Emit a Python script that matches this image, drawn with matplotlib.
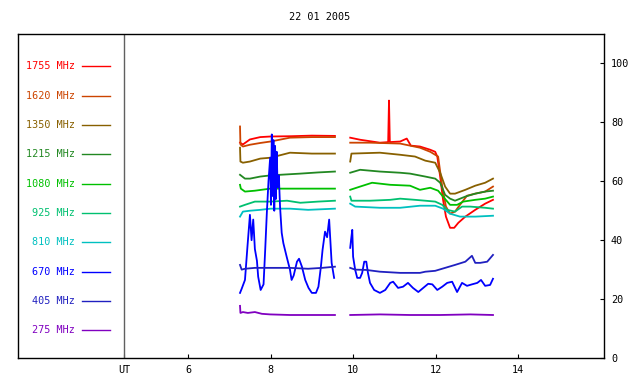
import numpy as np
import matplotlib.pyplot as plt

gap = np.nan

# frequencies (legend, top to bottom) and colours
freqs = ['1755', '1620', '1350', '1215', '1080', '925', '810', '670', '405', '275']
colors = ['#ff0000', '#cc4400', '#886000', '#228822', '#00c000',
          '#00c070', '#00c0c0', '#0000ff', '#2020c0', '#8000c0']

# time (UT hours) and flux for each channel, two observing runs split by gap
t_1755 = [7.26, 7.33, 7.50, 7.75, 8.0, 8.5, 9.0, 9.56, gap,
          9.93, 10.17, 10.65, 10.85, 10.87, 10.89, 11.14, 11.30, 11.40, 11.62, 11.87, 11.99, 12.04,
          12.11, 12.18, 12.25, 12.35, 12.45, 12.55, 12.72, 12.96, 13.20, 13.39]
v_1755 = [73.1, 72.5, 74.2, 75.0, 75.2, 75.3, 75.5, 75.4, gap,
          74.8, 74.1, 73.1, 73.3, 87.4, 73.3, 73.5, 74.5, 72.1, 71.8, 70.7, 70.0, 68.4,
          61.6, 53.7, 48.0, 44.2, 44.2, 45.9, 48.0, 50.3, 52.4, 53.7]

t_1620 = [7.26, 7.27, 7.33, 7.50, 7.75, 8.0, 8.47, 9.0, 9.56, gap,
          9.93, 10.41, 11.14, 11.62, 11.87, 12.06, 12.16, 12.25, 12.35, 12.47, 12.59, 12.76,
          12.96, 13.20, 13.39]
v_1620 = [78.6, 72.5, 71.8, 72.4, 73.0, 73.5, 74.8, 75.0, 75.0, gap,
          73.1, 73.1, 72.8, 71.4, 70.0, 68.4, 58.2, 51.4, 49.0, 49.7, 52.0, 55.1,
          55.8, 56.5, 58.2]

t_1350 = [7.26, 7.27, 7.33, 7.50, 7.75, 8.0, 8.47, 9.0, 9.56, gap,
          9.93, 9.96, 10.65, 11.14, 11.50, 11.75, 11.99, 12.11, 12.23, 12.35, 12.47, 12.72,
          12.96, 13.20, 13.39]
v_1350 = [71.4, 66.7, 66.3, 66.7, 67.7, 68.0, 69.7, 69.4, 69.4, gap,
          66.7, 69.4, 69.7, 69.0, 68.4, 67.0, 66.3, 62.9, 58.2, 55.8, 55.8, 57.1,
          58.5, 59.5, 60.9]

t_1215 = [7.26, 7.38, 7.50, 7.75, 8.0, 8.23, 8.72, 9.15, 9.56, gap,
          9.93, 10.17, 10.65, 11.14, 11.38, 11.75, 11.99, 12.11, 12.23, 12.35, 12.47, 12.72,
          12.96, 13.20, 13.39]
v_1215 = [62.2, 60.9, 60.9, 61.6, 62.0, 62.2, 62.6, 63.0, 63.3, gap,
          62.9, 63.9, 63.3, 62.9, 62.6, 61.6, 60.9, 59.5, 55.4, 54.1, 53.4, 54.8,
          55.8, 56.5, 56.8]

t_1080 = [7.26, 7.28, 7.38, 7.62, 7.99, 8.47, 9.03, 9.56, gap,
          9.93, 10.17, 10.46, 10.90, 11.38, 11.62, 11.87, 12.06, 12.18, 12.35, 12.52, 12.67,
          12.96, 13.20, 13.39]
v_1080 = [58.8, 57.5, 56.5, 56.8, 57.5, 57.5, 57.5, 57.5, gap,
          57.1, 58.2, 59.5, 58.8, 58.5, 57.1, 57.8, 56.8, 54.8, 52.0, 52.0, 53.1,
          53.7, 54.1, 54.8]

t_925 = [7.26, 7.38, 7.62, 8.0, 8.40, 8.72, 9.15, 9.56, gap,
         9.93, 9.96, 10.41, 10.90, 11.14, 11.50, 11.75, 11.99, 12.16, 12.28, 12.47, 12.64,
         12.84, 13.20, 13.39]
v_925 = [51.4, 52.0, 53.1, 53.1, 53.4, 52.7, 53.1, 53.4, gap,
         54.8, 53.4, 53.4, 53.7, 54.1, 53.7, 53.4, 53.1, 52.0, 50.3, 49.7, 51.4,
         51.4, 51.0, 50.7]

t_810 = [7.26, 7.33, 7.50, 7.75, 8.0, 8.47, 8.91, 9.56, gap,
         9.93, 10.05, 10.65, 11.14, 11.62, 11.99, 12.18, 12.35, 12.59, 12.96, 13.39]
v_810 = [48.0, 49.7, 50.0, 50.3, 50.7, 50.7, 50.3, 50.7, gap,
         52.4, 51.4, 51.0, 51.0, 51.7, 51.7, 50.7, 49.0, 48.0, 48.0, 48.3]

t_670 = [7.26, 7.30, 7.38, 7.44, 7.50, 7.54, 7.58, 7.62, 7.67, 7.70, 7.76, 7.83, 7.87, 7.91,
         7.95, 7.99, 8.01, 8.03, 8.05, 8.07, 8.09, 8.11, 8.13, 8.15, 8.17, 8.20, 8.23, 8.27,
         8.31, 8.39, 8.47, 8.51, 8.56, 8.64, 8.69, 8.76, 8.84, 8.92, 9.00, 9.10, 9.16, 9.22,
         9.26, 9.32, 9.37, 9.42, 9.48, 9.54, gap,
         9.93, 9.95, 9.98, 10.00, 10.05, 10.10, 10.17, 10.22, 10.27, 10.32, 10.36, 10.41, 10.51,
         10.65, 10.78, 10.90, 10.97, 11.09, 11.21, 11.33, 11.45, 11.58, 11.70, 11.82, 11.92,
         12.04, 12.16, 12.28, 12.40, 12.52, 12.64, 12.76, 12.88, 13.01, 13.10, 13.20, 13.32, 13.39]
v_670 = [22.1, 23.5, 26.5, 37.8, 48.6, 40.0, 47.0, 37.0, 33.0, 27.6, 23.1, 25.0, 36.7, 49.3,
         60.0, 68.0, 52.0, 75.9, 55.0, 74.0, 50.0, 72.0, 54.0, 70.0, 58.0, 62.0, 51.4, 42.5,
         39.0, 34.4, 30.0, 26.5, 28.0, 32.7, 33.7, 31.0, 26.5, 23.8, 22.1, 22.1, 24.2, 31.0,
         36.7, 42.9, 41.0, 47.0, 32.3, 27.2, gap,
         37.4, 40.0, 43.5, 34.4, 30.0, 27.2, 27.2, 28.9, 32.7, 32.7, 28.9, 25.5, 23.1,
         22.1, 23.1, 25.5, 25.9, 23.8, 24.2, 25.5, 23.8, 22.4, 23.8, 25.2, 25.0,
         23.1, 24.2, 25.5, 25.9, 22.4, 25.5, 24.5, 25.0, 25.5, 26.5, 24.5, 24.8, 26.9]

t_405 = [7.26, 7.30, 7.38, 7.62, 7.99, 8.47, 8.91, 9.25, 9.56, gap,
         9.93, 10.05, 10.32, 10.65, 11.14, 11.62, 11.75, 11.99, 12.23, 12.47, 12.72, 12.88,
         12.96, 13.08, 13.25, 13.39]
v_405 = [31.6, 30.0, 30.3, 30.6, 30.6, 30.6, 30.3, 30.6, 31.0, gap,
         30.6, 30.0, 29.9, 29.3, 28.9, 28.9, 29.3, 29.6, 30.6, 31.6, 32.7, 34.7,
         32.3, 32.3, 32.7, 35.0]

t_275 = [7.26, 7.27, 7.33, 7.45, 7.62, 7.79, 7.99, 8.47, 9.03, 9.56, gap,
         9.93, 10.65, 11.38, 12.11, 12.84, 13.39]
v_275 = [17.7, 15.3, 15.6, 15.3, 15.6, 15.0, 14.8, 14.6, 14.6, 14.6, gap,
         14.6, 14.8, 14.6, 14.6, 14.8, 14.6]

times = [t_1755, t_1620, t_1350, t_1215, t_1080, t_925, t_810, t_670, t_405, t_275]
values = [v_1755, v_1620, v_1350, v_1215, v_1080, v_925, v_810, v_670, v_405, v_275]

xticks = [6, 8, 10, 12, 14]
yticks = [0, 20, 40, 60, 80, 100]
ut_pos = 4.45

mono = 'DejaVu Sans Mono'
fs = 7.3

fig = plt.figure(figsize=(6.4, 3.84), dpi=100)
ax = fig.add_axes([18 / 640, 26 / 384, 586 / 640, 324 / 384])

for t, v, c in zip(times, values, colors):
    ax.plot(t, v, color=c, lw=1.3)

# legend column on the left of the UT line
for i, (f, c) in enumerate(zip(freqs, colors)):
    y = 99 - 9.95 * i
    ax.text(3.25, y, f + ' MHz', color=c, fontsize=fs, family=mono,
            ha='right', va='center')
    ax.plot([3.42, 4.10], [y, y], color=c, lw=1.0)

ax.axvline(ut_pos, color='#606060', lw=1.0)

ax.set_xlim(1.88, 16.08)
ax.set_ylim(0, 110)
ax.set_xticks([ut_pos] + xticks)
ax.set_xticklabels(['UT'] + [str(x) for x in xticks], family=mono, fontsize=fs)
ax.yaxis.tick_right()
ax.set_yticks(yticks)
ax.set_yticklabels([str(y) for y in yticks], family=mono, fontsize=fs)
ax.tick_params(direction='in', length=3, width=0.8, pad=5)
for s in ax.spines.values():
    s.set_linewidth(1.0)

fig.text(0.5, 1 - 17 / 384, '22 01 2005', family=mono, fontsize=fs,
         ha='center', va='center')

fig.savefig('out.png', dpi=100)
